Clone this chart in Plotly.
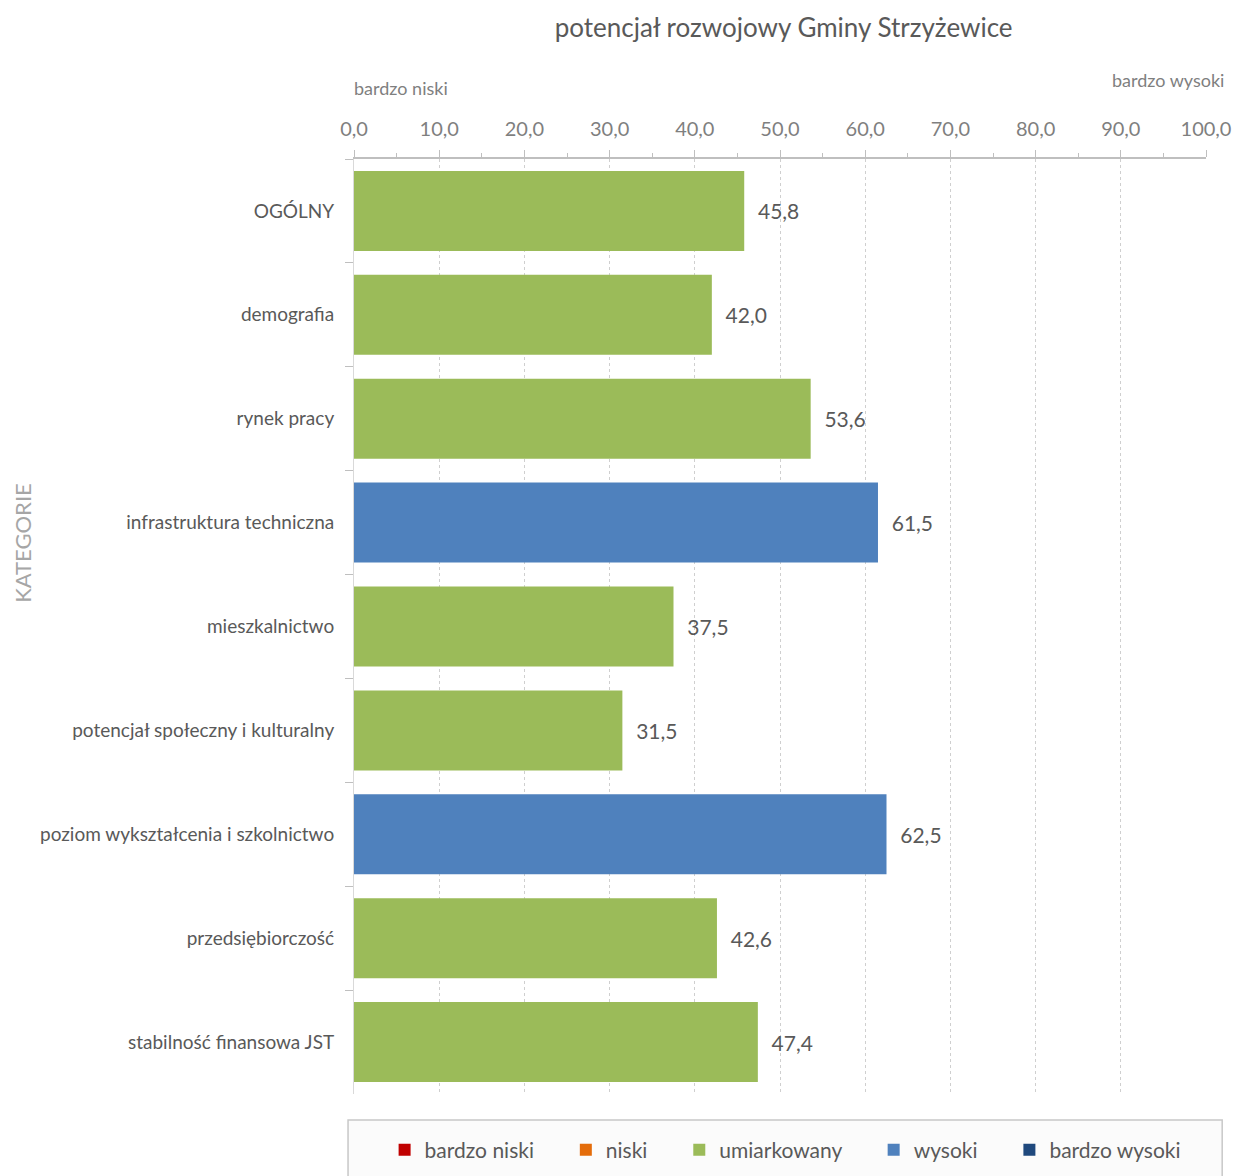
import plotly.graph_objects as go

categories = ['OGÓLNY', 'demografia', 'rynek pracy', 'infrastruktura techniczna',
              'mieszkalnictwo', 'potencjał społeczny i kulturalny',
              'poziom wykształcenia i szkolnictwo', 'przedsiębiorczość',
              'stabilność finansowa JST']
values = [45.8, 42.0, 53.6, 61.5, 37.5, 31.5, 62.5, 42.6, 47.4]
levels = ['umiarkowany', 'umiarkowany', 'umiarkowany', 'wysoki', 'umiarkowany',
          'umiarkowany', 'wysoki', 'umiarkowany', 'umiarkowany']

level_names = ['bardzo niski', 'niski', 'umiarkowany', 'wysoki', 'bardzo wysoki']
level_colors = ['#C00000', '#E46C0A', '#9BBB59', '#4F81BD', '#1F497D']

FONT = 'Lato'
TXT = '#595959'
NB = '\u00a0'

fig = go.Figure()
for i, (name, col) in enumerate(zip(level_names, level_colors)):
    xs = [v if lv == name else None for v, lv in zip(values, levels)]
    # trailing spaces widen the gap between legend entries
    label = name if i == len(level_names) - 1 else name + NB * 5
    fig.add_trace(go.Bar(
        y=categories, x=xs, orientation='h', name=label,
        marker=dict(color=col, line=dict(width=0)),
        texttemplate=NB * 2 + '%{x:.1f}', textposition='outside',
        textfont=dict(size=21, color=TXT, family=FONT),
        cliponaxis=False,
    ))

fig.update_layout(
    width=1236, height=1176,
    paper_bgcolor='white', plot_bgcolor='white',
    separators=', ',
    barmode='relative', bargap=0.23,
    margin=dict(l=354, r=30, t=159, b=82, autoexpand=False),
    font=dict(family=FONT, color=TXT),
    title=dict(text='potencjał rozwojowy Gminy Strzyżewice', x=0.634, xanchor='center',
               y=0.976, yanchor='middle', font=dict(size=26, color=TXT, family=FONT)),
    showlegend=True,
    legend=dict(orientation='h', x=0.506, xanchor='center', y=-0.060, yanchor='middle',
                font=dict(size=21, color=TXT, family=FONT), itemsizing='constant',
                bgcolor='rgba(0,0,0,0)', traceorder='normal',
                itemclick=False),
)

fig.update_xaxes(
    side='top', range=[0, 100], dtick=10, tickformat='.1f', automargin=False,
    tickfont=dict(size=20, color='#7f7f7f', family=FONT), ticklabelstandoff=6,
    showgrid=True, gridcolor='#cfcfcf', griddash='dot', gridwidth=1,
    showline=True, linecolor='#bfbfbf', linewidth=1.5,
    ticks='outside', ticklen=7, tickcolor='#bfbfbf',
    minor=dict(dtick=5, ticks='outside', ticklen=4, tickcolor='#bfbfbf', showgrid=False),
    zeroline=False, fixedrange=True,
)
fig.update_yaxes(
    autorange='reversed', tickson='boundaries', ticks='outside', ticklen=8,
    tickcolor='#bfbfbf', showline=True, linecolor='#d9d9d9', linewidth=1,
    tickfont=dict(size=19, color=TXT, family=FONT), ticklabelstandoff=15,
    showgrid=False, automargin=False,
)

fig.add_annotation(text='KATEGORIE', xref='paper', yref='paper', x=-0.389, y=0.589,
                   xanchor='center', yanchor='middle', textangle=-90, showarrow=False,
                   font=dict(size=22, color='#a6a6a6', family=FONT))
fig.add_annotation(text='bardzo niski', xref='paper', yref='paper', x=-0.002, y=1.076,
                   xanchor='left', yanchor='middle', showarrow=False,
                   font=dict(size=18, color='#7f7f7f', family=FONT))
fig.add_annotation(text='bardzo wysoki', xref='paper', yref='paper', x=1.023, y=1.084,
                   xanchor='right', yanchor='middle', showarrow=False,
                   font=dict(size=18, color='#7f7f7f', family=FONT))

# legend frame
fig.add_shape(type='rect', xref='paper', yref='paper', x0=-0.007, x1=1.019, y0=-0.12, y1=-0.0277,
              line=dict(color='#c8c8c8', width=1.5), fillcolor='#fbfbfb', layer='below')

# drop the default page margin so the figure fills the window exactly
fig.write_html('out.html', config={'displayModeBar': False},
               post_script="document.body.style.margin='0';document.body.style.overflow='hidden';")
